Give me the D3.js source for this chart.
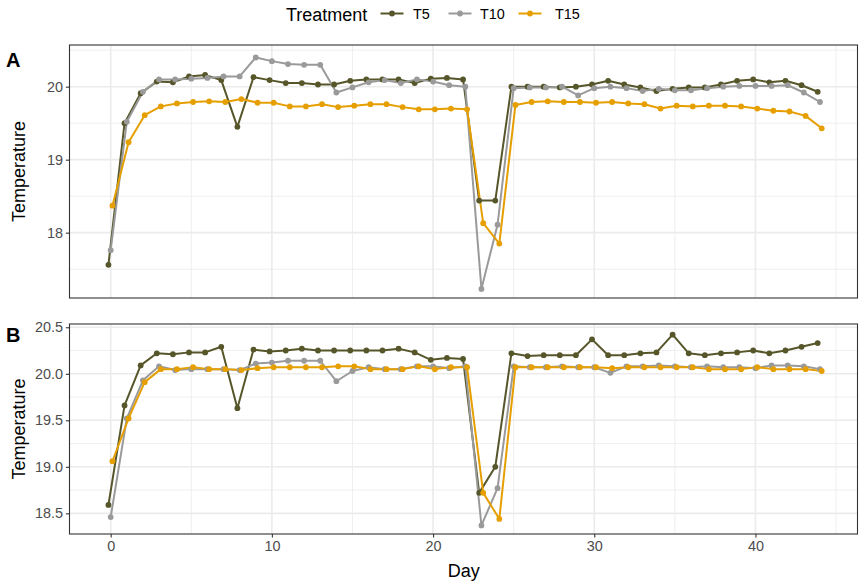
<!DOCTYPE html>
<html>
<head>
<meta charset="utf-8">
<script src="https://cdn.jsdelivr.net/npm/d3@7"></script>
<style>
  html, body { margin: 0; padding: 0; background: #fff; }
  text { font-family: "Liberation Sans", Arial, sans-serif; }
</style>
</head>
<body>
<div id="root"></div>
<script>
const SVG_WIDTH = 859;
const SVG_HEIGHT = 583;

const days = d3.range(0, 45);
const treatments = ['T5', 'T10', 'T15'];
const colors = ['#56562a', '#9a9a9a', '#e69f00'];
const xTicks = [0, 10, 20, 30, 40];

// panel A
const aT5 = [17.56, 19.50, 19.91, 20.07, 20.06, 20.14, 20.16, 20.09, 19.45, 20.13,
  20.09, 20.05, 20.05, 20.03, 20.03, 20.08, 20.10, 20.10, 20.10, 20.05,
  20.11, 20.12, 20.10, 18.44, 18.44, 20.00, 20.00, 20.00, 19.99, 20.00,
  20.03, 20.08, 20.03, 19.99, 19.94, 19.97, 19.99, 19.99, 20.03, 20.08,
  20.10, 20.06, 20.08, 20.02, 19.93];
const aT10 = [17.76, 19.52, 19.93, 20.10, 20.10, 20.11, 20.12, 20.14, 20.14, 20.40,
  20.35, 20.31, 20.30, 20.30, 19.92, 19.99, 20.06, 20.09, 20.05, 20.10,
  20.07, 20.02, 20.00, 17.23, 18.11, 19.98, 19.99, 19.99, 20.00, 19.88,
  19.98, 20.00, 19.98, 19.94, 19.97, 19.95, 19.95, 19.98, 20.00, 20.01,
  20.01, 20.01, 20.02, 19.92, 19.79];
const aT15 = [18.37, 19.24, 19.61, 19.73, 19.77, 19.79, 19.80, 19.79, 19.83, 19.78,
  19.78, 19.73, 19.73, 19.76, 19.72, 19.74, 19.76, 19.76, 19.72, 19.69,
  19.69, 19.70, 19.69, 18.13, 17.85, 19.75, 19.79, 19.80, 19.79, 19.79,
  19.78, 19.79, 19.77, 19.76, 19.70, 19.74, 19.73, 19.74, 19.74, 19.73,
  19.70, 19.67, 19.66, 19.60, 19.43];
const aTicks = [18, 19, 20];

// panel B
const bT5 = [18.59, 19.66, 20.09, 20.22, 20.21, 20.23, 20.23, 20.29, 19.63, 20.26,
  20.24, 20.25, 20.27, 20.25, 20.25, 20.25, 20.25, 20.25, 20.27, 20.23,
  20.15, 20.17, 20.16, 18.72, 19.00, 20.22, 20.19, 20.20, 20.20, 20.20,
  20.37, 20.20, 20.20, 20.22, 20.23, 20.42, 20.22, 20.20, 20.22, 20.23,
  20.25, 20.22, 20.25, 20.29, 20.33];
const bT10 = [18.46, 19.52, 19.93, 20.08, 20.04, 20.05, 20.05, 20.05, 20.04, 20.11,
  20.12, 20.14, 20.14, 20.14, 19.92, 20.03, 20.07, 20.05, 20.05, 20.08,
  20.08, 20.06, 20.08, 18.37, 18.77, 20.08, 20.07, 20.07, 20.08, 20.07,
  20.07, 20.01, 20.08, 20.08, 20.09, 20.08, 20.07, 20.08, 20.07, 20.07,
  20.06, 20.09, 20.09, 20.08, 20.05];
const bT15 = [19.06, 19.52, 19.91, 20.05, 20.05, 20.07, 20.05, 20.05, 20.04, 20.06,
  20.07, 20.07, 20.07, 20.07, 20.08, 20.08, 20.05, 20.05, 20.05, 20.08,
  20.05, 20.07, 20.07, 18.72, 18.44, 20.07, 20.07, 20.07, 20.07, 20.07,
  20.07, 20.06, 20.07, 20.07, 20.07, 20.07, 20.07, 20.05, 20.05, 20.05,
  20.07, 20.05, 20.05, 20.05, 20.03];
const bTicks = [18.5, 19.0, 19.5, 20.0, 20.5];

// small horizontal dodge between treatments
const dodge = [-0.14, 0, 0.11];

const LEFT = 69.5;
const RIGHT = 857.5;
const LINE_W = 2;
const DOT_R = 2.9;

function addSvg() {
  const svg = document.createElementNS('http://www.w3.org/2000/svg', 'svg');
  svg.id = 'svg';
  svg.setAttribute('width', SVG_WIDTH);
  svg.setAttribute('height', SVG_HEIGHT);
  return svg;
}

const xScale = d3.scaleLinear().domain([-2.555, 46.33]).range([LEFT, RIGHT]);

/**
 * 画一个面板
 */
function drawPanel(cfg) {
  const svg = d3.select('#svg');
  const yScale = d3.scaleLinear().domain(cfg.yDomain).range([cfg.bottom, cfg.top]);
  const g = svg.append('g');

  // minor grid
  const xMinor = xTicks.map((t) => t + 5).filter((t) => t < xScale.domain()[1]);
  const yStep = cfg.ticks[1] - cfg.ticks[0];
  const yMinor = [cfg.ticks[0] - yStep / 2].concat(cfg.ticks.map((t) => t + yStep / 2))
    .filter((t) => t > cfg.yDomain[0] && t < cfg.yDomain[1]);

  g.selectAll('.xminor').data(xMinor).enter().append('line')
    .attr('x1', (d) => xScale(d)).attr('x2', (d) => xScale(d))
    .attr('y1', cfg.top).attr('y2', cfg.bottom)
    .attr('stroke', '#ebebeb').attr('stroke-width', 0.8);
  g.selectAll('.yminor').data(yMinor).enter().append('line')
    .attr('x1', LEFT).attr('x2', RIGHT)
    .attr('y1', (d) => yScale(d)).attr('y2', (d) => yScale(d))
    .attr('stroke', '#ebebeb').attr('stroke-width', 0.8);

  // major grid
  g.selectAll('.xmajor').data(xTicks).enter().append('line')
    .attr('x1', (d) => xScale(d)).attr('x2', (d) => xScale(d))
    .attr('y1', cfg.top).attr('y2', cfg.bottom)
    .attr('stroke', '#ebebeb').attr('stroke-width', 1.6);
  g.selectAll('.ymajor').data(cfg.ticks).enter().append('line')
    .attr('x1', LEFT).attr('x2', RIGHT)
    .attr('y1', (d) => yScale(d)).attr('y2', (d) => yScale(d))
    .attr('stroke', '#ebebeb').attr('stroke-width', 1.6);

  const line = d3.line().x((d) => xScale(d[0])).y((d) => yScale(d[1]));

  const series = cfg.series.map((vals, i) => vals.map((v, j) => [days[j] + dodge[i], v]));

  series.forEach((pts, i) => {
    g.append('path')
      .attr('d', line(pts))
      .attr('fill', 'none')
      .attr('stroke', colors[i])
      .attr('stroke-width', LINE_W)
      .attr('stroke-linejoin', 'round');
  });
  series.forEach((pts, i) => {
    g.append('g').selectAll('circle').data(pts).enter().append('circle')
      .attr('cx', (d) => xScale(d[0]))
      .attr('cy', (d) => yScale(d[1]))
      .attr('r', DOT_R)
      .attr('fill', colors[i]);
  });

  // border
  g.append('rect')
    .attr('x', LEFT).attr('y', cfg.top)
    .attr('width', RIGHT - LEFT).attr('height', cfg.bottom - cfg.top)
    .attr('fill', 'none').attr('stroke', '#333333').attr('stroke-width', 1.1);

  // y axis
  const yAxis = d3.axisLeft(yScale).tickValues(cfg.ticks).tickFormat(cfg.format)
    .tickSize(3.6).tickPadding(3);
  const ya = g.append('g').attr('transform', `translate(${LEFT},0)`).call(yAxis);
  ya.select('.domain').remove();
  ya.selectAll('line').attr('stroke', '#333333').attr('stroke-width', 1.1);
  ya.selectAll('text').attr('fill', '#4d4d4d').style('font-size', '14.4px')
    .style('font-family', '"Liberation Sans", Arial, sans-serif');

  if (cfg.xAxis) {
    const xAxis = d3.axisBottom(xScale).tickValues(xTicks).tickSize(3.6).tickPadding(3);
    const xa = g.append('g').attr('transform', `translate(0,${cfg.bottom})`).call(xAxis);
    xa.select('.domain').remove();
    xa.selectAll('line').attr('stroke', '#333333').attr('stroke-width', 1.1);
    xa.selectAll('text').attr('fill', '#4d4d4d').style('font-size', '14.4px')
      .style('font-family', '"Liberation Sans", Arial, sans-serif');
  }

  // y title
  const cy = (cfg.top + cfg.bottom) / 2;
  svg.append('text')
    .attr('transform', `translate(24.5,${cy}) rotate(-90)`)
    .attr('text-anchor', 'middle')
    .style('font-size', '18px')
    .attr('fill', '#000')
    .text('Temperature');

  // tag
  svg.append('text')
    .attr('x', 6).attr('y', cfg.tagY)
    .style('font-size', '20px').style('font-weight', 'bold')
    .attr('fill', '#000')
    .text(cfg.tag);
}

/**
 * 图例
 */
function legend() {
  const svg = d3.select('#svg');
  const g = svg.append('g');
  g.append('text').attr('x', 286).attr('y', 20.5)
    .style('font-size', '18px').attr('fill', '#000').text('Treatment');
  const keyX = [392, 460, 530];
  const labelX = [413, 480, 555];
  treatments.forEach((t, i) => {
    g.append('line')
      .attr('x1', keyX[i] - 11.5).attr('x2', keyX[i] + 11.5)
      .attr('y1', 13.5).attr('y2', 13.5)
      .attr('stroke', colors[i]).attr('stroke-width', LINE_W);
    g.append('circle').attr('cx', keyX[i]).attr('cy', 13.5).attr('r', DOT_R).attr('fill', colors[i]);
    g.append('text').attr('x', labelX[i]).attr('y', 19)
      .style('font-size', '14.4px').attr('fill', '#000').text(t);
  });
}

function main() {
  legend();
  drawPanel({
    top: 45, bottom: 298, yDomain: [17.105, 20.571], ticks: aTicks,
    format: d3.format('d'), series: [aT5, aT10, aT15], xAxis: false, tag: 'A', tagY: 66.7,
  });
  drawPanel({
    top: 324, bottom: 534, yDomain: [18.278, 20.535], ticks: bTicks,
    format: d3.format('.1f'), series: [bT5, bT10, bT15], xAxis: true, tag: 'B', tagY: 341.7,
  });
  d3.select('#svg').append('text')
    .attr('x', xScale(21.9)).attr('y', 577)
    .attr('text-anchor', 'middle')
    .style('font-size', '18px').attr('fill', '#000')
    .text('Day');
}

const root = document.getElementById('root');
root.appendChild(addSvg());
main();
</script>
</body>
</html>
